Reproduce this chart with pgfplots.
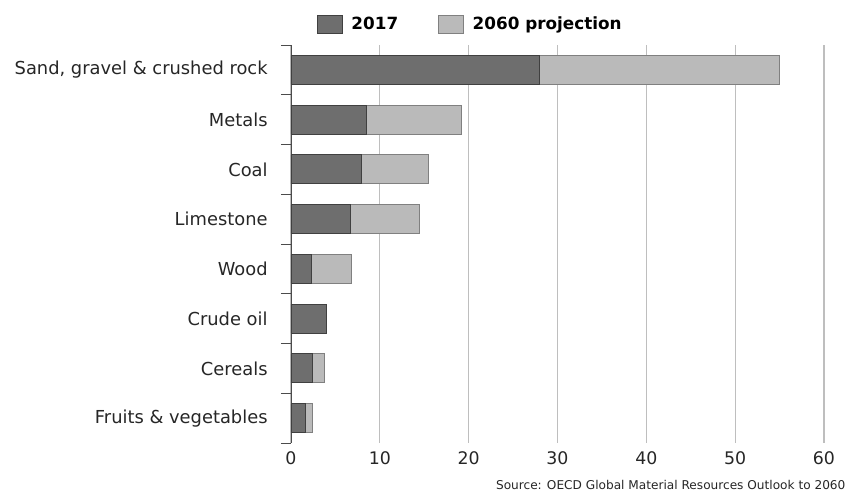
\documentclass[border=0pt]{standalone}
\usepackage{pgfplots}
\pgfplotsset{compat=1.18}
\usepackage{fontspec}
\setmainfont{DejaVu Sans}
\definecolor{darkbar}{RGB}{110,110,110}
\definecolor{lightbar}{RGB}{186,186,186}
\definecolor{gridgray}{RGB}{190,190,190}
\begin{document}
\begin{tikzpicture}
\begin{axis}[
    scale only axis,
    width=399.75pt, height=298.5pt,
    xbar stacked,
    bar width=21.75pt,
    xmin=0, xmax=60,
    ymin=-0.5, ymax=7.5,
    xtick={0,10,...,60},
    ytick={0,...,7},
    yticklabels={Fruits \& vegetables, Cereals, Crude oil, Wood, Limestone, Coal, Metals, {Sand, gravel \& crushed rock}},
    minor ytick={-0.5,0.5,...,7.5},
    major tick length=0pt,
    minor tick length=7.5pt,
    tick align=outside,
    axis lines*=left,
    x axis line style={draw=none},
    y axis line style={draw=black!70, line width=0.7pt},
    ytick style={draw=black!70, line width=0.7pt},
    xtick style={draw=none},
    xmajorgrids,
    major x grid style={draw=gridgray, line width=0.8pt},
    /pgf/number format/assume math mode=true,
    yticklabel style={font=\fontsize{13.4}{15}\selectfont, text=black!85, xshift=-14pt},
    xticklabel style={font=\fontsize{13}{15}\selectfont, text=black!85, yshift=-3pt},
    legend columns=2,
    legend style={at={(0.337,1.053)}, anchor=center, draw=none, fill=none,
        font=\fontsize{12.6}{14}\selectfont\bfseries,
        /tikz/every odd column/.append style={column sep=4.5pt},
        /tikz/every even column/.append style={column sep=28pt}},
    legend image code/.code={\draw[#1] (0pt,-6.75pt) rectangle (18.75pt,6.75pt);},
    clip=false,
]
\addplot[fill=darkbar, draw=black!75, line width=0.6pt] coordinates {
    (1.6,0) (2.4,1) (3.95,2) (2.25,3) (6.7,4) (7.9,5) (8.45,6) (28,7)
};
\addplot[fill=lightbar, draw=black!50, line width=0.6pt] coordinates {
    (0.8,0) (1.4,1) (0,2) (4.55,3) (7.7,4) (7.6,5) (10.75,6) (27,7)
};
\legend{2017, 2060 projection}
\end{axis}
\node[anchor=south east, inner sep=0pt, font=\fontsize{9.1}{11}\selectfont, text=black!85] at (416pt,-35pt) {Source: OECD Global Material Resources Outlook to 2060};
\pgfresetboundingbox
\path (-218.25pt,-36.75pt) rectangle (416.25pt,332.25pt);
\end{tikzpicture}
\end{document}
